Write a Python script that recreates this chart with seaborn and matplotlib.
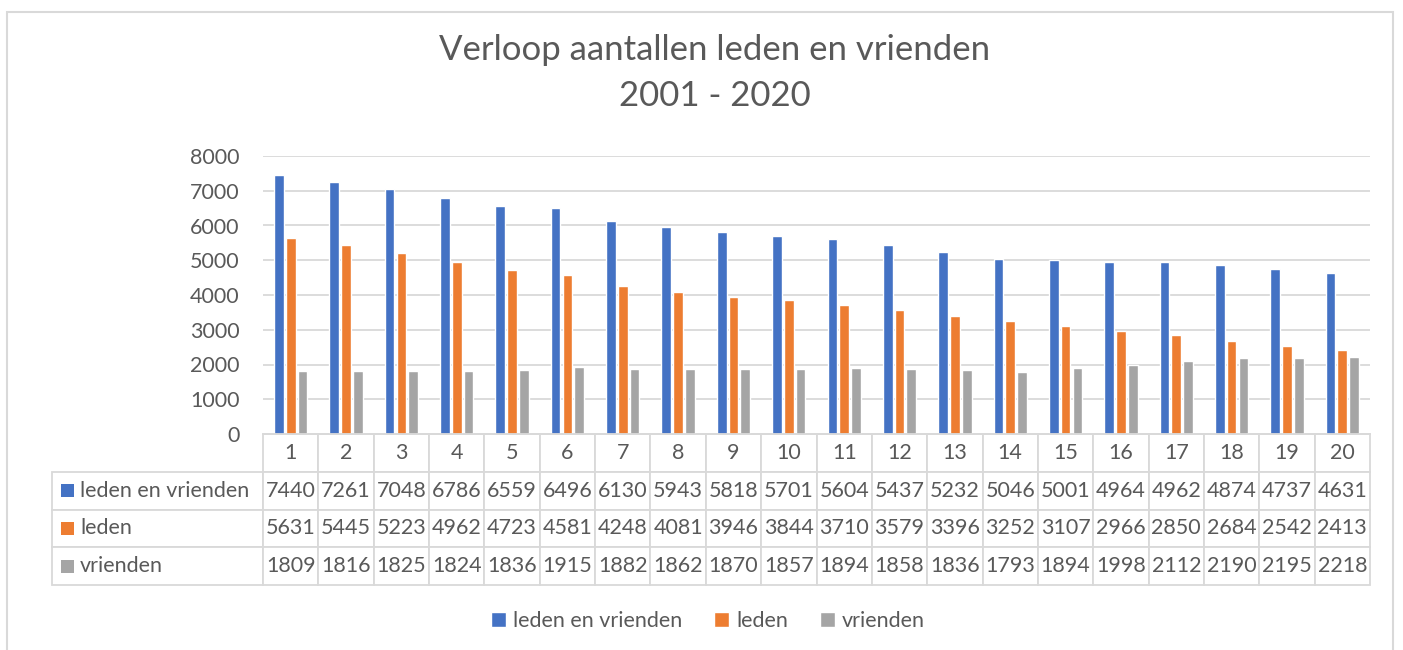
import numpy as np
import pandas as pd
import matplotlib
matplotlib.use("Agg")
import matplotlib.pyplot as plt
from matplotlib.patches import Rectangle
import seaborn as sns

# data
jaren = [str(i) for i in range(1, 21)]
series = ["leden en vrienden", "leden", "vrienden"]
leden_en_vrienden = [7440, 7261, 7048, 6786, 6559, 6496, 6130, 5943, 5818, 5701,
                     5604, 5437, 5232, 5046, 5001, 4964, 4962, 4874, 4737, 4631]
leden = [5631, 5445, 5223, 4962, 4723, 4581, 4248, 4081, 3946, 3844,
         3710, 3579, 3396, 3252, 3107, 2966, 2850, 2684, 2542, 2413]
vrienden = [1809, 1816, 1825, 1824, 1836, 1915, 1882, 1862, 1870, 1857,
            1894, 1858, 1836, 1793, 1894, 1998, 2112, 2190, 2195, 2218]
kleuren = ["#4472C4", "#ED7D31", "#A5A5A5"]
titel = "Verloop aantallen leden en vrienden\n2001 - 2020"

values = [leden_en_vrienden, leden, vrienden]
df = pd.DataFrame({
    "jaar": jaren * 3,
    "reeks": np.repeat(series, len(jaren)),
    "aantal": leden_en_vrienden + leden + vrienden,
})

sns.set_theme(style="white")
plt.rcParams["font.family"] = ["Lato", "DejaVu Sans"]
tekst = "#595959"
grid = "#D9D9D9"
fs = 15.5

W, H = 1403, 650
fig = plt.figure(figsize=(W / 100, H / 100), dpi=100)
fig.patch.set_facecolor("white")

# outer chart frame
fig.patches.append(Rectangle((7 / W, -0.05), (1393 - 7) / W, 1.05 - 12 / H,
                             transform=fig.transFigure, fill=False,
                             edgecolor=grid, linewidth=1.5))

left, right, top, bottom = 263, 1370, 156, 434
ax = fig.add_axes([left / W, 1 - bottom / H, (right - left) / W, (bottom - top) / H])

sns.barplot(data=df, x="jaar", y="aantal", hue="reeks", palette=kleuren,
            width=0.64, gap=0.18, ax=ax, saturation=1)

handles, labels = ax.get_legend_handles_labels()
ax.get_legend().remove()

ax.set_ylim(0, 8000)
ax.set_yticks(range(0, 8001, 1000))
ax.yaxis.grid(True, color=grid, linewidth=1.3)
ax.set_axisbelow(True)
ax.tick_params(axis="y", length=0, pad=17, labelsize=fs, labelcolor=tekst)
ax.tick_params(axis="x", length=0, labelbottom=False)
ax.set_xlabel("")
ax.set_ylabel("")
for s in ["top", "right", "left"]:
    ax.spines[s].set_visible(False)
ax.spines["bottom"].set_color(grid)
ax.spines["bottom"].set_linewidth(1.3)

# data table below the axis
ax_w = right - left
ax_h = bottom - top
tab_left = 52
tab_bottom = 585
cell_text = [series[i:i + 1] + [str(v) for v in values[i]] for i in range(3)]
col_labels = [""] + jaren
label_w = left - tab_left
col_widths = [label_w / ax_w] + [1 / len(jaren)] * len(jaren)
table = ax.table(cellText=cell_text, colLabels=col_labels, colWidths=col_widths,
                 cellLoc="center",
                 bbox=[(tab_left - left) / ax_w, -(tab_bottom - bottom) / ax_h,
                       (right - tab_left) / ax_w, (tab_bottom - bottom) / ax_h])
table.auto_set_font_size(False)
table.set_fontsize(fs)
for (r, c), cell in table.get_celld().items():
    cell.set_edgecolor(grid)
    cell.set_linewidth(1.3)
    cell.get_text().set_color(tekst)
    if r == 0 and c == 0:
        cell.set_visible(False)
    if c == 0 and r > 0:
        cell.get_text().set_ha("left")
        cell._loc = "left"
        cell.PAD = 28 / label_w

# coloured markers in the row labels
row_h = (tab_bottom - bottom) / 4
for i, kleur in enumerate(kleuren):
    yc = bottom + row_h * (i + 1.5)
    ax.add_patch(Rectangle(((61 - left) / ax_w, -(yc + 6.5 - bottom) / ax_h),
                           13 / ax_w, 13 / ax_h, transform=ax.transAxes,
                           facecolor=kleur, edgecolor="none", clip_on=False))

fig.suptitle(titel, x=715 / W, y=1 - 34 / H, va="top", fontsize=25,
             color=tekst, linespacing=1.55)

fig.legend(handles, labels, loc="center", bbox_to_anchor=(708 / W, 1 - 621 / H),
           ncol=3, frameon=False, fontsize=fs, labelcolor=tekst,
           handlelength=0.7, handleheight=0.7, handletextpad=0.3,
           columnspacing=1.5)

fig.savefig("out.png", dpi=100)
